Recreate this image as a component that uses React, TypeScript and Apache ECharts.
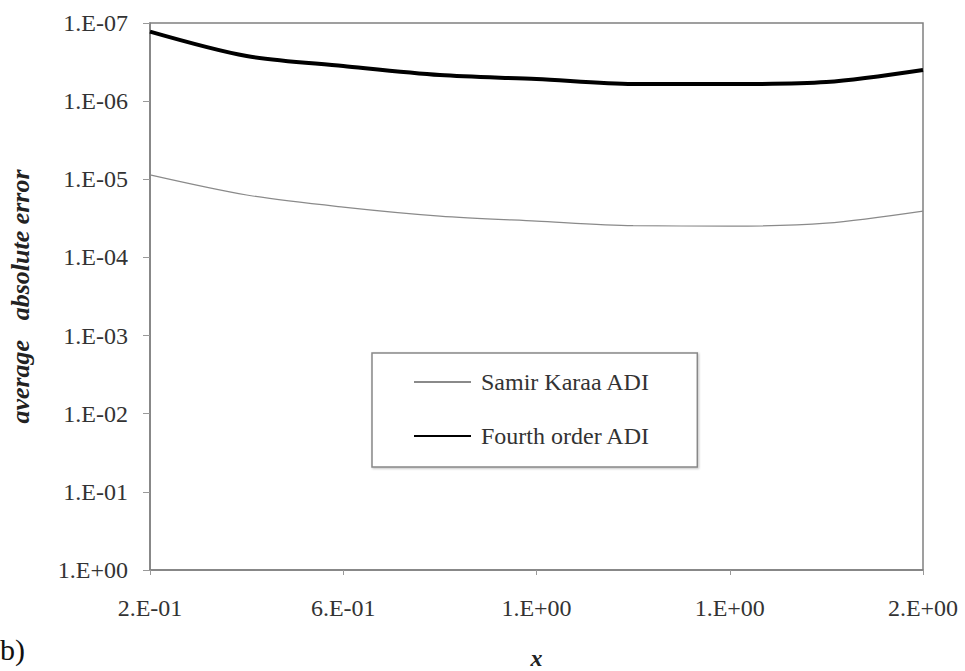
import React, { useEffect, useRef } from "react";
import * as echarts from "echarts";

const xValues = ["0.2", "0.4", "0.6", "0.8", "1.0", "1.2", "1.4", "1.6", "1.8"];
const xTickLabels = ["2.E-01", "6.E-01", "1.E+00", "1.E+00", "2.E+00"];
const yTickLabels = ["1.E-07", "1.E-06", "1.E-05", "1.E-04", "1.E-03", "1.E-02", "1.E-01", "1.E+00"];
const samirKaraa = [8.8e-6, 1.59e-5, 2.27e-5, 2.96e-5, 3.43e-5, 3.92e-5, 3.97e-5, 3.64e-5, 2.55e-5];
const fourthOrder = [1.29e-7, 2.65e-7, 3.55e-7, 4.63e-7, 5.21e-7, 6.04e-7, 6.04e-7, 5.7e-7, 4.0e-7];

const FONT = "'Liberation Serif', 'Times New Roman', Times, serif";

export default function App() {
  const ref = useRef<HTMLDivElement>(null);
  useEffect(() => {
    if (!ref.current) return;
    const chart = echarts.init(ref.current, null, { renderer: "svg" });
    chart.setOption({
      animation: false,
      backgroundColor: "#fff",
      grid: {
        left: 150,
        right: 42,
        top: 23,
        bottom: 101,
        outerBoundsMode: "none",
        show: true,
        borderColor: "#808080",
        borderWidth: 1.5,
        backgroundColor: "#fff",
      },
      legend: {
        left: 372,
        top: 353,
        orient: "vertical",
        itemWidth: 57,
        itemHeight: 24,
        itemGap: 30,
        padding: [17, 47, 19, 41],
        borderColor: "#888",
        borderWidth: 1.5,
        backgroundColor: "#fff",
        shadowColor: "rgba(0,0,0,0.25)",
        shadowOffsetX: 1,
        shadowOffsetY: 1,
        shadowBlur: 2,
        itemStyle: { opacity: 0 },
        textStyle: { fontFamily: FONT, fontSize: 24, color: "#333", padding: [0, 0, 0, 5] },
        data: ["Samir Karaa ADI", "Fourth order ADI"],
      },
      xAxis: {
        type: "category",
        data: xValues,
        boundaryGap: false,
        name: "x",
        nameLocation: "middle",
        nameGap: 76,
        nameTextStyle: { fontFamily: FONT, fontSize: 24, fontStyle: "italic", fontWeight: "bold", color: "#222" },
        axisLine: { lineStyle: { color: "#808080", width: 1.5 } },
        axisTick: { interval: 1, length: 5, lineStyle: { color: "#999" } },
        axisLabel: {
          interval: 1,
          margin: 26,
          fontFamily: FONT,
          fontSize: 24,
          color: "#333",
          formatter: (_v: string, i: number) => xTickLabels[i / 2] ?? "",
        },
        splitLine: { show: false },
      },
      yAxis: {
        type: "log",
        logBase: 10,
        inverse: true,
        min: 1e-7,
        max: 1,
        interval: 1,
        name: "average   absolute error",
        nameLocation: "middle",
        nameGap: 117,
        nameTextStyle: { fontFamily: FONT, fontSize: 26, fontStyle: "italic", fontWeight: "bold", color: "#222" },
        axisLine: { show: true, lineStyle: { color: "#808080", width: 1.5 } },
        axisTick: { show: true, length: 7, lineStyle: { color: "#999" } },
        axisLabel: {
          margin: 22,
          fontFamily: FONT,
          fontSize: 24,
          color: "#333",
          formatter: (v: number) => yTickLabels[Math.round(Math.log10(v)) + 7] ?? "",
        },
        splitLine: { show: false },
        minorTick: { show: false },
      },
      series: [
        {
          name: "Samir Karaa ADI",
          type: "line",
          data: samirKaraa,
          smooth: 0.3,
          symbol: "none",
          lineStyle: { color: "#8a8a8a", width: 1.2 },
          itemStyle: { color: "#8a8a8a" },
        },
        {
          name: "Fourth order ADI",
          type: "line",
          data: fourthOrder,
          smooth: 0.3,
          symbol: "none",
          lineStyle: { color: "#000", width: 4 },
          itemStyle: { color: "#000" },
        },
      ],
      graphic: [
        {
          type: "text",
          left: 0,
          top: 634,
          style: { text: "b)", fontFamily: FONT, fontSize: 30, fill: "#111" },
        },
      ],
    });
    return () => chart.dispose();
  }, []);
  return <div ref={ref} style={{ width: 965, height: 671, position: "absolute", left: 0, top: 0 }} />;
}
